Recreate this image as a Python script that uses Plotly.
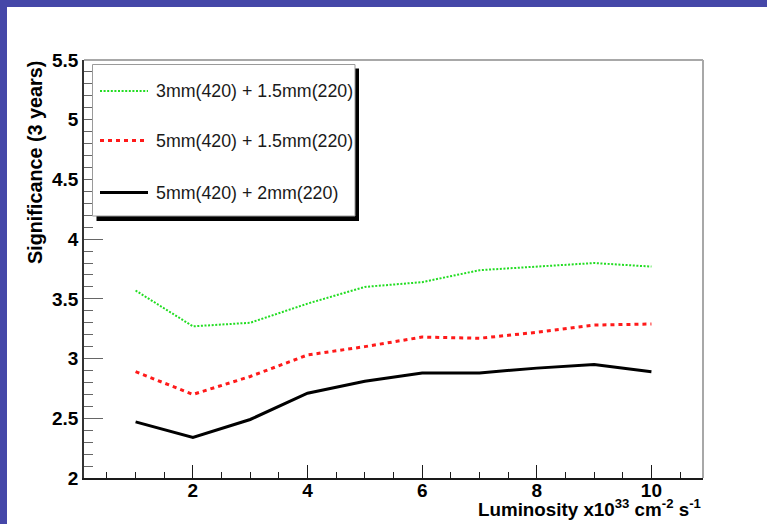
import plotly.graph_objects as go

# Luminosity points (x10^33 cm^-2 s^-1)
luminosity = [1, 2, 3, 4, 5, 6, 7, 8, 9, 10]

# Significance over 3 years for each detector configuration
sig_3mm_15mm = [3.57, 3.27, 3.30, 3.46, 3.60, 3.64, 3.74, 3.77, 3.80, 3.77]
sig_5mm_15mm = [2.89, 2.70, 2.85, 3.03, 3.10, 3.18, 3.17, 3.22, 3.28, 3.29]
sig_5mm_2mm = [2.47, 2.34, 2.49, 2.71, 2.81, 2.88, 2.88, 2.92, 2.95, 2.89]

series_names = [
    "3mm(420) + 1.5mm(220)",
    "5mm(420) + 1.5mm(220)",
    "5mm(420) + 2mm(220)",
]

y_tick_vals = [2, 2.5, 3, 3.5, 4, 4.5, 5, 5.5]
y_tick_text = ["2", "2.5", "3", "3.5", "4", "4.5", "5", "5.5"]
x_tick_vals = [2, 4, 6, 8, 10]
x_tick_text = ["2", "4", "6", "8", "10"]

# Canvas geometry (pixels)
W, H = 767, 524
L, R, T, B = 84, 703, 60, 478
PW, PH = R - L, B - T


def px(x):
    return (x - L) / PW


def py(y):
    return (B - y) / PH


FONT = "Liberation Sans, Arial, Helvetica, sans-serif"

styles = [
    dict(color="#22dd22", width=2, dash="2px,1.6px"),
    dict(color="#ff1a1a", width=3, dash="4px,4px"),
    dict(color="#000000", width=3, dash="solid"),
]

fig = go.Figure()
for name, vals, st in zip(series_names, [sig_3mm_15mm, sig_5mm_15mm, sig_5mm_2mm], styles):
    fig.add_trace(go.Scatter(
        x=luminosity, y=vals, mode="lines", name=name,
        line=st, showlegend=False,
    ))

shapes = []
# slide border (top and left bands)
blue = "#4547a8"
shapes.append(dict(type="rect", xref="paper", yref="paper", layer="above",
                   x0=px(0), x1=px(W), y0=py(7), y1=py(0),
                   fillcolor=blue, line=dict(width=0)))
shapes.append(dict(type="rect", xref="paper", yref="paper", layer="above",
                   x0=px(0), x1=px(7), y0=py(H), y1=py(0),
                   fillcolor=blue, line=dict(width=0)))
# grey frame on top and right
shapes.append(dict(type="line", xref="paper", yref="paper",
                   x0=0, x1=1, y0=1, y1=1, line=dict(color="#a8a8a8", width=2)))
shapes.append(dict(type="line", xref="paper", yref="paper",
                   x0=1, x1=1, y0=0, y1=1, line=dict(color="#a8a8a8", width=2)))

# legend box with drop shadow
lx0, lx1, ly0, ly1 = 92.5, 355, 64.5, 216
shapes.append(dict(type="rect", xref="paper", yref="paper", layer="above",
                   x0=px(lx0 + 4), x1=px(lx1 + 4), y0=py(ly1 + 5), y1=py(ly0 + 4),
                   fillcolor="#000000", line=dict(width=0)))
shapes.append(dict(type="rect", xref="paper", yref="paper", layer="above",
                   x0=px(lx0), x1=px(lx1), y0=py(ly1), y1=py(ly0),
                   fillcolor="#ffffff", line=dict(color="#9a9a9a", width=1)))

annotations = []
entry_y = [91, 140.5, 192.5]
for name, st, ey in zip(series_names, styles, entry_y):
    shapes.append(dict(type="line", xref="paper", yref="paper", layer="above",
                       x0=px(100), x1=px(148), y0=py(ey), y1=py(ey),
                       line=st))
    annotations.append(dict(xref="paper", yref="paper", x=px(154), y=py(ey),
                            xanchor="left", yanchor="middle", showarrow=False,
                            text=name, font=dict(family=FONT, size=17.8, color="#1a1a1a")))

# axis titles
annotations.append(dict(xref="paper", yref="paper", x=px(35.5), y=py(59),
                        xanchor="center", yanchor="top", textangle=-90, showarrow=False,
                        text="<b>Significance (3 years)</b>",
                        font=dict(family=FONT, size=19.8, color="#000000")))
annotations.append(dict(xref="paper", yref="paper", x=px(703), y=py(522),
                        xanchor="right", yanchor="bottom", showarrow=False,
                        text="<b>Luminosity x10<sup>33</sup> cm<sup>-2</sup> s<sup>-1</sup></b>",
                        font=dict(family=FONT, size=18.8, color="#000000")))

fig.update_layout(
    width=W, height=H,
    margin=dict(l=L, r=W - R, t=T, b=H - B, pad=0),
    paper_bgcolor="#ffffff", plot_bgcolor="#ffffff",
    showlegend=False,
    shapes=shapes, annotations=annotations,
    xaxis=dict(
        range=[0.1, 10.9], showgrid=False, zeroline=False,
        showline=True, linecolor="#1a1a1a", linewidth=1.5,
        tickmode="array", tickvals=x_tick_vals, ticktext=x_tick_text,
        ticks="inside", ticklen=13, tickwidth=1.2, tickcolor="#1a1a1a",
        ticklabelstandoff=-6,
        tickfont=dict(family=FONT, size=19, color="#000000", weight="bold"),
        minor=dict(tickmode="linear", tick0=0, dtick=0.5, ticks="inside",
                   ticklen=6, tickwidth=1.2, tickcolor="#1a1a1a"),
    ),
    yaxis=dict(
        range=[2, 5.5], showgrid=False, zeroline=False,
        showline=True, linecolor="#333333", linewidth=1.5,
        tickmode="array", tickvals=y_tick_vals, ticktext=y_tick_text,
        ticks="inside", ticklen=19, tickwidth=1.2, tickcolor="#666666",
        tickfont=dict(family=FONT, size=19, color="#000000", weight="bold"),
        minor=dict(tickmode="linear", tick0=2, dtick=0.1, ticks="inside",
                   ticklen=9, tickwidth=1.2, tickcolor="#666666"),
    ),
)

fig.write_html("out.html")
